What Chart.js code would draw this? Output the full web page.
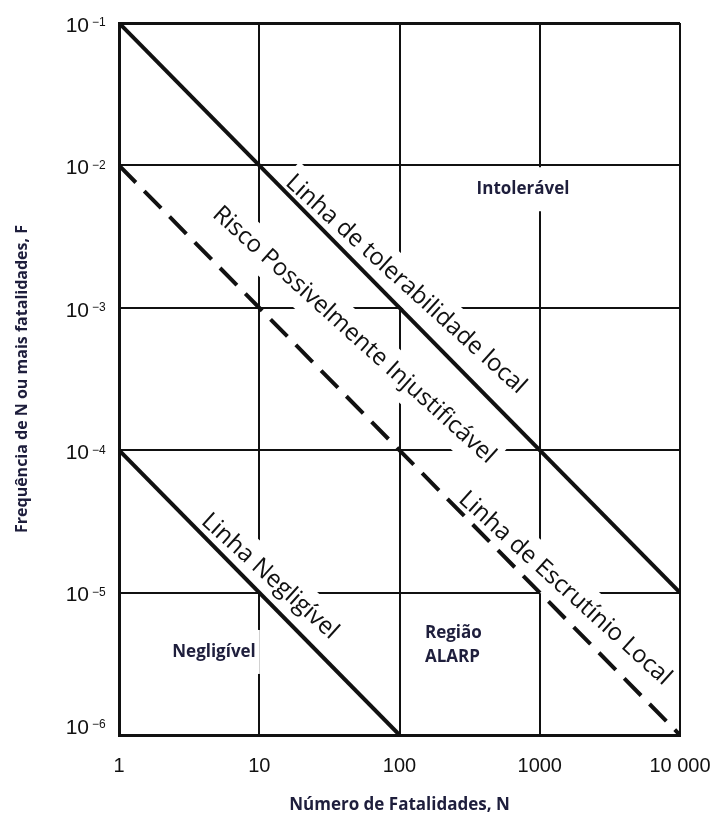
<!DOCTYPE html>
<html>
<head>
<meta charset="utf-8">
<script src="https://cdn.jsdelivr.net/npm/chart.js@4.4.1/dist/chart.umd.min.js"></script>
<style>
  html, body { margin: 0; padding: 0; background: #fff; }
</style>
</head>
<body>
<canvas id="graficoFN" width="718" height="816"></canvas>
<script>
// eixos (escala log-log)
const ticksN = [1, 10, 100, 1000, 10000];
const rotulosN = ["1", "10", "100", "1000", "10 000"];
const ticksF = [1e-1, 1e-2, 1e-3, 1e-4, 1e-5, 1e-6];
const expoentesF = [-1, -2, -3, -4, -5, -6];

// linhas de critério: número de fatalidades N x frequência F
const tolerabilidadeN = [1, 10000];
const tolerabilidadeF = [1e-1, 1e-5];
const escrutinioN = [1, 10000];
const escrutinioF = [1e-2, 1e-6];
const negligivelN = [1, 100];
const negligivelF = [1e-4, 1e-6];

const pontos = (ns, fs) => ns.map((n, i) => ({ x: n, y: fs[i] }));

const COR_TEXTO = "#1e1e3c";
const ANGULO = 42 * Math.PI / 180;
const FONTE_LINHAS = '24px "Open Sans"';
const FONTE_REGIOES = 'bold 17px "Open Sans"';

// textos ao longo das linhas (posição do centro em N, F)
const textosLinhas = [
  { texto: "Linha de tolerabilidade local", n: 111, f: 1.46e-3 },
  { texto: "Risco Possivelmente Injustificável", n: 47.4, f: 6.44e-4 },
  { texto: "Linha de Escrutínio Local", n: 1514, f: 1.07e-5 },
  { texto: "Linha Negligível", n: 11.9, f: 1.30e-5 }
];

// nomes das regiões
const textosRegioes = [
  { texto: "Intolerável", n: 760, f: 6.8e-3, alinha: "center" },
  { texto: "Negligível", n: 4.76, f: 3.83e-6, alinha: "center" },
  { texto: "Região", n: 152, f: 5.2e-6, alinha: "left" },
  { texto: "ALARP", n: 152, f: 3.53e-6, alinha: "left" }
];

const rotulos = {
  id: "rotulos",
  // caixas brancas cortam a grade (sem tocar na moldura), as linhas ficam por cima
  beforeDatasetsDraw(chart) {
    const { ctx, chartArea: a, scales: { x, y } } = chart;
    ctx.save();
    ctx.beginPath();
    ctx.rect(a.left + 2, a.top + 2, a.width - 4, a.height - 4);
    ctx.clip();
    ctx.fillStyle = "#fff";
    ctx.font = FONTE_LINHAS;
    textosLinhas.forEach(t => {
      const w = ctx.measureText(t.texto).width;
      ctx.save();
      ctx.translate(x.getPixelForValue(t.n), y.getPixelForValue(t.f));
      ctx.rotate(ANGULO);
      ctx.fillRect(-w / 2 - 4, -20, w + 8, 40);
      ctx.restore();
    });
    ctx.font = FONTE_REGIOES;
    textosRegioes.forEach(t => {
      const w = ctx.measureText(t.texto).width;
      const px = x.getPixelForValue(t.n);
      const x0 = t.alinha === "left" ? px : px - w / 2;
      ctx.fillRect(x0 - 4, y.getPixelForValue(t.f) - 22, w + 8, 44);
    });
    ctx.restore();
  },
  afterDraw(chart) {
    const { ctx, chartArea, scales: { x, y } } = chart;
    ctx.save();
    ctx.fillStyle = "#111";
    ctx.textBaseline = "middle";

    ctx.font = FONTE_LINHAS;
    ctx.textAlign = "center";
    textosLinhas.forEach(t => {
      ctx.save();
      ctx.translate(x.getPixelForValue(t.n), y.getPixelForValue(t.f));
      ctx.rotate(ANGULO);
      ctx.fillText(t.texto, 0, 0);
      ctx.restore();
    });

    ctx.fillStyle = COR_TEXTO;
    ctx.font = FONTE_REGIOES;
    textosRegioes.forEach(t => {
      ctx.textAlign = t.alinha;
      ctx.fillText(t.texto, x.getPixelForValue(t.n), y.getPixelForValue(t.f));
    });

    // marcas do eixo N
    ctx.fillStyle = "#111";
    ctx.font = '20px "Liberation Sans"';
    ctx.textAlign = "center";
    ticksN.forEach((v, i) => {
      ctx.fillText(rotulosN[i], x.getPixelForValue(v), chartArea.bottom + 31);
    });

    // marcas do eixo F: 10 com expoente
    ticksF.forEach((v, i) => {
      const py = y.getPixelForValue(v) + (i === ticksF.length - 1 ? -7 : 3);
      const xd = chartArea.left - 30;
      ctx.font = '21px "Liberation Sans"';
      ctx.textAlign = "right";
      ctx.textBaseline = "middle";
      ctx.fillText("10", xd, py);
      ctx.font = '12px "Liberation Sans"';
      ctx.textAlign = "left";
      ctx.textBaseline = "top";
      ctx.fillText("\u2212" + Math.abs(expoentesF[i]), xd + 3, py - 9);
    });
    ctx.restore();
  }
};

new Chart(document.getElementById("graficoFN"), {
  type: "line",
  data: {
    datasets: [
      {
        label: "Linha de tolerabilidade local",
        data: pontos(tolerabilidadeN, tolerabilidadeF),
        borderColor: "#111",
        borderWidth: 4
      },
      {
        label: "Linha de Escrutínio Local",
        data: pontos(escrutinioN, escrutinioF),
        borderColor: "#111",
        borderWidth: 4,
        borderDash: [24, 12]
      },
      {
        label: "Linha Negligível",
        data: pontos(negligivelN, negligivelF),
        borderColor: "#111",
        borderWidth: 4
      }
    ]
  },
  options: {
    responsive: false,
    animation: false,
    events: [],
    elements: { point: { radius: 0 } },
    layout: { padding: { top: 23, right: 38, left: 0, bottom: 0 } },
    plugins: { legend: { display: false }, tooltip: { enabled: false } },
    scales: {
      x: {
        type: "logarithmic",
        min: 1,
        max: 10000,
        afterBuildTicks: s => { s.ticks = ticksN.map(v => ({ value: v })); },
        afterFit: s => { s.height = 81; },
        ticks: { display: false },
        grid: { color: "#111", lineWidth: 2, drawTicks: false },
        border: { color: "#111", width: 3 },
        title: {
          display: true,
          text: "Número de Fatalidades, N",
          color: COR_TEXTO,
          font: { family: "Open Sans", size: 17, weight: "bold" },
          padding: { top: 0, bottom: 1 }
        }
      },
      y: {
        type: "logarithmic",
        min: 1e-6,
        max: 1e-1,
        afterBuildTicks: s => { s.ticks = ticksF.map(v => ({ value: v })); },
        afterFit: s => { s.width = 119; },
        ticks: { display: false },
        grid: {
          color: "#111",
          lineWidth: c => (c.tick && c.tick.value === 1e-1 ? 3 : 2),
          drawTicks: false
        },
        border: { color: "#111", width: 3 },
        title: {
          display: true,
          text: "Frequência de N ou mais fatalidades, F",
          color: COR_TEXTO,
          font: { family: "Open Sans", size: 16, weight: "bold" },
          padding: { top: 13, bottom: 0 }
        }
      }
    }
  },
  plugins: [rotulos]
});
</script>
</body>
</html>
